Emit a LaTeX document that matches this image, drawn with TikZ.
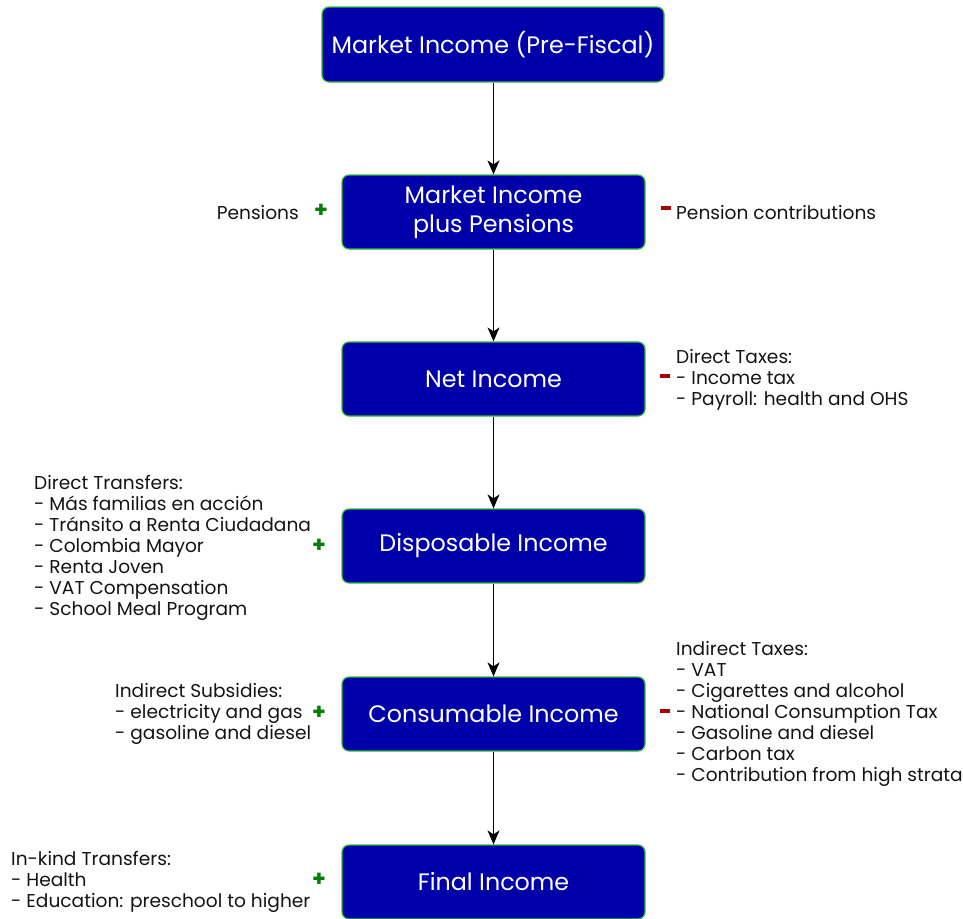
\documentclass[tikz,border=0pt]{standalone}
\usepackage{fontspec}
\setmainfont{Poppins}
\usetikzlibrary{arrows.meta}
\definecolor{boxblue}{RGB}{0,0,170}
\definecolor{boxgreen}{RGB}{50,190,50}
\definecolor{plusgreen}{RGB}{0,128,0}
\definecolor{minusred}{RGB}{170,0,0}
\definecolor{txt}{RGB}{20,20,20}
\tikzset{
  stagebox/.style={draw=boxgreen, line width=1.2pt, fill=boxblue, rounded corners=7pt,
    text=white, font=\fontsize{23.8}{29}\selectfont, align=center, inner sep=0pt},
  sidelabel/.style={text=txt, font=\fontsize{18.6}{21}\selectfont, align=left, inner sep=0pt},
  plussign/.style={text=plusgreen, font=\fontsize{22}{22}\bfseries\selectfont, inner sep=0pt},
  minussign/.style={fill=minusred, minimum width=10pt, minimum height=3.6pt, inner sep=0pt},
  flow/.style={line width=1.6pt, -{Stealth[length=14pt,width=12pt,inset=4pt]}}
}
\begin{document}
\begin{tikzpicture}[x=1pt,y=-1pt]
\useasboundingbox (0,0) rectangle (963,918);
\clip (0,0) rectangle (963,918);
% boxes
\node[stagebox, minimum width=342pt, minimum height=75pt] (b1) at (493,44.5) {Market Income (Pre-Fiscal)};
\node[stagebox, minimum width=303pt, minimum height=74pt] (b2) at (493.5,212) {Market Income\\plus Pensions};
\node[stagebox, minimum width=303pt, minimum height=74pt] (b3) at (493.5,379) {Net Income};
\node[stagebox, minimum width=303pt, minimum height=74pt] (b4) at (493.5,546) {Disposable Income};
\node[stagebox, minimum width=303pt, minimum height=74pt] (b5) at (493.5,714) {Consumable Income};
\node[stagebox, minimum width=303pt, minimum height=74pt] (b6) at (493.5,882) {Final Income};
% arrows
\draw[flow] (b1.south -| b2.north) -- (b2.north);
\draw[flow] (b2) -- (b3);
\draw[flow] (b3) -- (b4);
\draw[flow] (b4) -- (b5);
\draw[flow] (b5) -- (b6);
% signs
\node[plussign] (p2) at (321,211) {+};
\node[plussign] (p4) at (319,546) {+};
\node[plussign] (p5) at (319,713) {+};
\node[plussign] (p6) at (319,880) {+};
\node[minussign] (m2) at (666,208) {};
\node[minussign] (m3) at (665,376) {};
\node[minussign] (m5) at (665,711) {};
% labels
\node[sidelabel, anchor=east] (l2) at (299,213) {Pensions};
\node[sidelabel, anchor=west] (r2) at (676,213) {Pension contributions};
\node[sidelabel, anchor=west] (r3) at (676,379.5) {Direct Taxes:\\- Income tax\\- Payroll: health and OHS};
\node[sidelabel, anchor=west] (l4) at (34,547.5) {Direct Transfers:\\- Más familias en acción\\- Tránsito a Renta Ciudadana\\- Colombia Mayor\\- Renta Joven\\- VAT Compensation\\- School Meal Program};
\node[sidelabel, anchor=west] (l5) at (115,714) {Indirect Subsidies:\\- electricity and gas\\- gasoline and diesel};
\node[sidelabel, anchor=west] (r5) at (676,714) {Indirect Taxes:\\- VAT\\- Cigarettes and alcohol\\- National Consumption Tax\\- Gasoline and diesel\\- Carbon tax\\- Contribution from high strata};
\node[sidelabel, anchor=west] (l6) at (11,881.5) {In-kind Transfers:\\- Health\\- Education: preschool to higher};
\end{tikzpicture}
\end{document}
